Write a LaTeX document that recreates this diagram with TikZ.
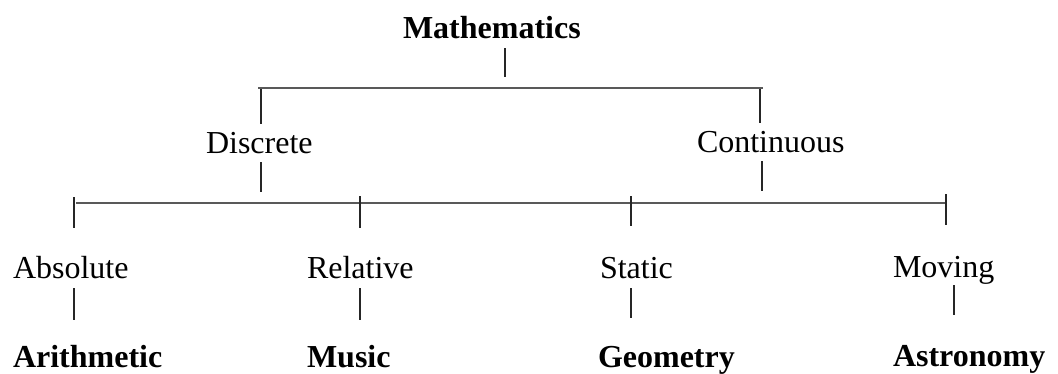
\documentclass[tikz,border=0pt]{standalone}
\usepackage{fontspec}
\setmainfont{Liberation Serif}
\begin{document}
\begin{tikzpicture}[x=1pt,y=-1pt,
  lbl/.style={inner sep=0pt,outer sep=0pt,anchor=base west,font=\fontsize{32}{38}\selectfont},
  blbl/.style={lbl,font=\fontsize{32}{38}\selectfont\bfseries},
  stem/.style={line width=1.5pt,black!85},
  bar/.style={line width=2.2pt,black!65}]
\useasboundingbox[fill=white] (0,0) rectangle (1058,373);
% nodes
\node[blbl] (math) at (403,38) {Mathematics};
\node[lbl] (disc) at (206,153) {Discrete};
\node[lbl] (cont) at (697,152) {Continuous};
\node[lbl] (abs) at (13,278) {Absolute};
\node[lbl] (rel) at (307,278) {Relative};
\node[lbl] (stat) at (600,278) {Static};
\node[lbl] (mov) at (893,277) {Moving};
\node[blbl] (arith) at (13,367) {Arithmetic};
\node[blbl] (mus) at (307,367) {Music};
\node[blbl] (geo) at (598,367) {Geometry};
\node[blbl] (astr) at (893,366) {Astronomy};
% junction coordinates
\coordinate (m1) at (505,48);  \coordinate (m2) at (505,77);
\coordinate (b1l) at (258,88); \coordinate (b1r) at (763,88);
\coordinate (d1) at (261,89);  \coordinate (d2) at (261,124);
\coordinate (c1) at (760,89);  \coordinate (c2) at (760,123);
\coordinate (d3) at (261,162); \coordinate (d4) at (261,192);
\coordinate (c3) at (762,161); \coordinate (c4) at (762,191);
\coordinate (b2l) at (76,203); \coordinate (b2r) at (946,203);
\coordinate (a1) at (74,197);  \coordinate (a2) at (74,228);
\coordinate (r1) at (360,196); \coordinate (r2) at (360,228);
\coordinate (s1) at (631,196); \coordinate (s2) at (631,226);
\coordinate (v1) at (946,194); \coordinate (v2) at (946,225);
\coordinate (a3) at (74,288);  \coordinate (a4) at (74,320);
\coordinate (r3) at (360,288); \coordinate (r4) at (360,320);
\coordinate (s3) at (631,288); \coordinate (s4) at (631,318);
\coordinate (v3) at (954,285); \coordinate (v4) at (954,315);
% connectors
\draw[stem] (m1) -- (m2);
\draw[bar] (b1l) -- (b1r);
\draw[stem] (d1) -- (d2);
\draw[stem] (c1) -- (c2);
\draw[stem] (d3) -- (d4);
\draw[stem] (c3) -- (c4);
\draw[bar] (b2l) -- (b2r);
\draw[stem] (a1) -- (a2);
\draw[stem] (r1) -- (r2);
\draw[stem] (s1) -- (s2);
\draw[stem] (v1) -- (v2);
\draw[stem] (a3) -- (a4);
\draw[stem] (r3) -- (r4);
\draw[stem] (s3) -- (s4);
\draw[stem] (v3) -- (v4);
\end{tikzpicture}
\end{document}
